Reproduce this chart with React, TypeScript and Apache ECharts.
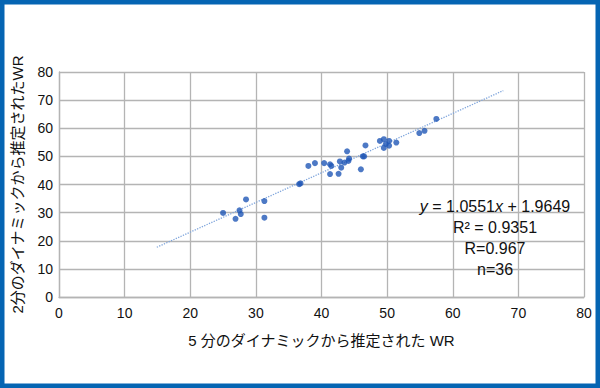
import React, { useEffect, useRef } from "react";
import * as echarts from "echarts";

// WR estimated from 5-min dynamics (x) and from 2-min dynamics (y)
const wr5: number[] = [
  25.0, 26.9, 27.5, 27.7, 28.5, 31.3, 31.3,
  36.6, 36.8, 38.0, 39.0, 40.4, 41.3, 41.5, 41.3, 42.6, 42.8, 43.0, 43.5,
  43.9, 44.1, 44.2, 46.0, 46.3, 46.5, 46.7, 48.9, 49.5, 49.5, 49.8, 50.3,
  50.3, 51.4, 54.9, 55.7, 57.5,
];
const wr2: number[] = [
  29.9, 27.8, 30.8, 29.5, 34.7, 34.1, 28.2,
  40.1, 40.4, 46.6, 47.6, 47.6, 47.2, 46.6, 43.7, 43.8, 48.2, 46.0, 47.8,
  51.8, 48.4, 49.2, 45.4, 50.0, 50.0, 53.9, 55.5, 56.1, 53.0, 54.4, 55.5,
  53.8, 54.9, 58.3, 59.1, 63.3,
];

const slope = 1.0551;
const intercept = 1.9649;
const trendRange: number[] = [14.9, 67.7];

const axisTicks = { min: 0, max: 80, interval: 10 };

const xTitle = "5 分のダイナミックから推定された WR";
const yTitle = "2分のダイナミックから推定されたWR";
const annotationLines: string[] = [
  "{i|y} = 1.0551{i|x} + 1.9649",
  "R² = 0.9351",
  "R=0.967",
  "n=36",
];

const FONT = "'Liberation Sans', Arial, 'Noto Sans CJK JP', sans-serif";

export default function App() {
  const ref = useRef<HTMLDivElement>(null);

  useEffect(() => {
    document.body.style.margin = "0";
    if (!ref.current) return;
    const chart = echarts.init(ref.current, null, { renderer: "svg" });

    const points = wr5.map((x, i) => [x, wr2[i]]);
    const trend = trendRange.map((x) => [x, slope * x + intercept]);

    const gridLine = { show: true, lineStyle: { color: "#b4b4b4", width: 1.3 } };

    chart.setOption({
      animation: false,
      backgroundColor: "#ffffff",
      grid: { left: 59, right: 16, top: 72, bottom: 91, containLabel: false },
      xAxis: {
        type: "value",
        ...axisTicks,
        name: xTitle,
        nameLocation: "middle",
        nameGap: 36,
        nameTextStyle: { fontSize: 15, color: "#111", fontFamily: FONT },
        axisLine: { show: true, lineStyle: { color: "#b4b4b4", width: 1.3 } },
        axisTick: { show: false },
        axisLabel: { fontSize: 14, color: "#111", margin: 9, fontFamily: FONT },
        splitLine: gridLine,
      },
      yAxis: {
        type: "value",
        ...axisTicks,
        name: yTitle,
        nameLocation: "middle",
        nameGap: 34,
        nameRotate: 90,
        nameTextStyle: { fontSize: 15, color: "#111", fontFamily: FONT },
        axisLine: { show: true, lineStyle: { color: "#b4b4b4", width: 1.3 } },
        axisTick: { show: false },
        axisLabel: { fontSize: 14, color: "#111", margin: 6, fontFamily: FONT },
        splitLine: gridLine,
      },
      series: [
        {
          type: "line",
          data: trend,
          symbol: "none",
          lineStyle: { type: "dotted", color: "#7fa5dc", width: 1.3 },
          z: 1,
        },
        {
          type: "scatter",
          data: points,
          symbol: "circle",
          symbolSize: 6,
          itemStyle: { color: "#2157b6" },
          z: 3,
        },
      ],
      graphic: [
        {
          type: "rect",
          shape: { x: 0, y: 0, width: 600, height: 388 },
          style: { fill: "none", stroke: "#0565b3", lineWidth: 9 },
          z: 100,
        },
        ...annotationLines.map((t, i) => ({
          type: "text",
          x: 495,
          y: 206 + i * 21,
          z: 50,
          style: {
            text: t,
            align: "center",
            verticalAlign: "middle",
            fontSize: 16,
            fontFamily: FONT,
            fill: "#111",
            rich: {
              i: { fontStyle: "italic", fontSize: 16, fontFamily: FONT, fill: "#111" },
            },
          },
        })),
      ],
    });

    return () => chart.dispose();
  }, []);

  return <div ref={ref} style={{ width: 600, height: 388 }} />;
}
